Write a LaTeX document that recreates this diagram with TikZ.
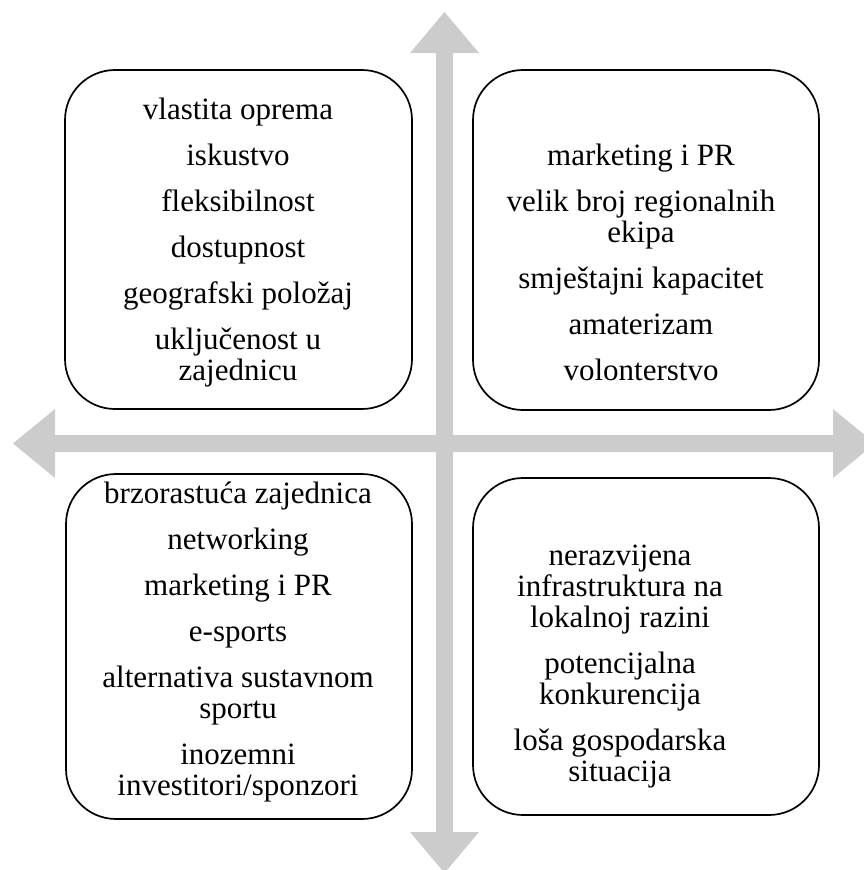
\documentclass[tikz,border=0pt]{standalone}
\usepackage{fontspec}
\setmainfont{Liberation Serif}
\definecolor{arrowgray}{HTML}{CCCCCC}
\newcommand\quadtextfont{\fontsize{31}{31}\selectfont\lineskiplimit=-100pt\relax}
\begin{document}
\begin{tikzpicture}[x=1pt,y=-1pt,
  quad/.style={draw=black, line width=1.7pt, rounded corners=50pt, fill=white, inner sep=0pt},
  txt/.style={align=center, inner sep=0pt, font=\quadtextfont}]
\useasboundingbox (0,0) rectangle (864,870);
% cross of arrows
\fill[arrowgray] (436,435) -- (436,53) -- (410,53) -- (444.5,12) -- (479,53) -- (453,53) -- (453,435)
  -- (833,435) -- (833,409) -- (875,443.5) -- (833,478) -- (833,452)
  -- (453,452) -- (453,832) -- (479,832) -- (444.5,873) -- (410,832) -- (436,832) -- (436,452)
  -- (55,452) -- (55,478) -- (13,443.5) -- (55,409) -- (55,435) -- cycle;
% boxes
\node[quad, minimum width=347pt, minimum height=339pt] (tl) at (238.5,239.5) {};
\node[quad, minimum width=346pt, minimum height=340pt] (tr) at (646,240) {};
\node[quad, minimum width=346pt, minimum height=345pt] (bl) at (239,646.5) {};
\node[quad, minimum width=346pt, minimum height=337pt] (br) at (646,646.5) {};
% texts
\node[txt] (tlt) at (238,243) {vlastita oprema\\[15pt] iskustvo\\[15pt] fleksibilnost\\[15pt] dostupnost\\[15pt] geografski položaj\\[15pt] uključenost u\\ zajednicu};
\node[txt] (trt) at (641,262) {marketing i PR\\[15pt] velik broj regionalnih\\ ekipa\\[15pt] smještajni kapacitet\\[15pt] amaterizam\\[15pt] volonterstvo};
\node[txt] (blt) at (238,642) {brzorastuća zajednica\\[15pt] networking\\[15pt] marketing i PR\\[15pt] e-sports\\[15pt] alternativa sustavnom\\ sportu\\[15pt] inozemni\\ investitori/sponzori};
\node[txt] (brt) at (620,667) {nerazvijena\\ infrastruktura na\\ lokalnoj razini\\[15pt] potencijalna\\ konkurencija\\[15pt] loša gospodarska\\ situacija};
\end{tikzpicture}
\end{document}
